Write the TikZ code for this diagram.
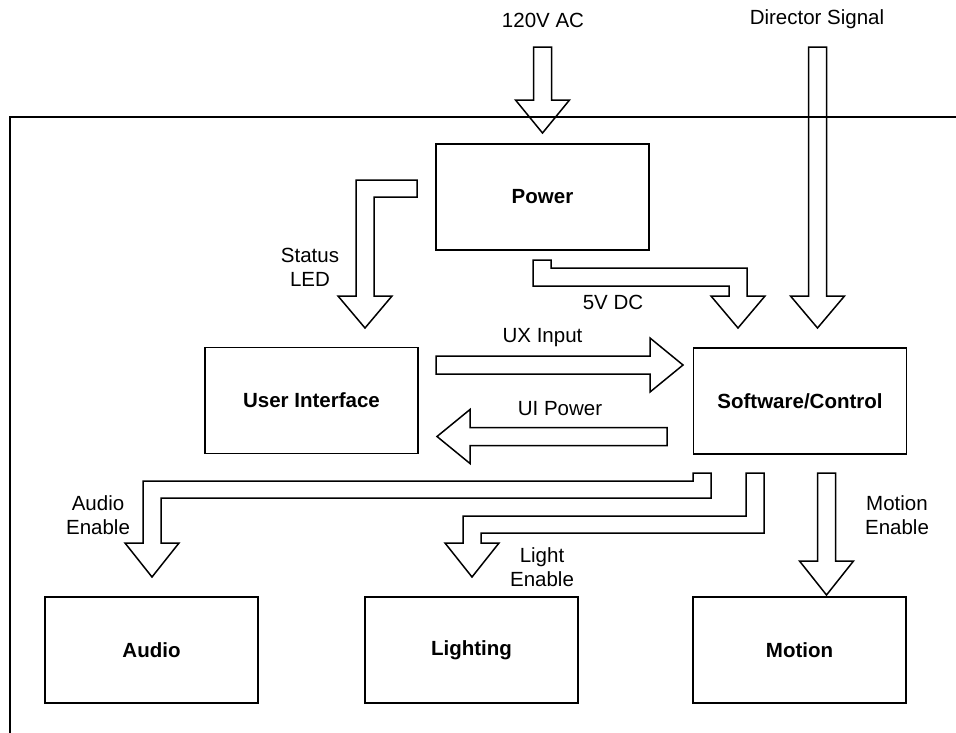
\documentclass[tikz,border=0pt]{standalone}
\usepackage{fontspec}
\setmainfont{Liberation Sans}
\begin{document}
\begin{tikzpicture}[x=1pt,y=-1pt,line width=1.5pt,
  box/.style={draw,minimum width=213pt,minimum height=106pt,inner sep=0pt,font=\bfseries\fontsize{20.5}{24}\selectfont},
  lbl/.style={align=center,inner sep=0pt,font=\fontsize{20.5}{24}\selectfont},
  hollow/.style={draw,line join=miter}]
\useasboundingbox (0,0) rectangle (956,732);
% enclosure frame
\coordinate (fbl) at (10,760);
\coordinate (ftl) at (10,117);
\coordinate (ftr) at (980,117);
\draw (fbl) -- (ftl) -- (ftr);
% boxes
\node[box] (power) at (542.5,197) {Power};
\node[box] (ui) at (311.5,400.5) {User Interface};
\node[box] (sw) at (800,401) {Software/Control};
\node[box] (audio) at (151.5,650) {Audio};
\node[box] (light) at (471.5,650) {Lighting};
\node[box] (motion) at (799.5,650) {Motion};
% hollow arrows
\draw[hollow] (533.5,47) -- (551.5,47) -- (551.5,100) -- (569.5,100) -- (542.5,133) -- (515.5,100) -- (533.5,100) -- cycle;
\draw[hollow] (808.5,47) -- (826.5,47) -- (826.5,296) -- (844.5,296) -- (817.5,328) -- (790.5,296) -- (808.5,296) -- cycle;
\draw[hollow] (417,180) -- (417,197) -- (374,197) -- (374,296) -- (392,296) -- (365,328) -- (338,296) -- (356,296) -- (356,180) -- cycle;
\draw[hollow] (533,260) -- (551,260) -- (551,268) -- (747,268) -- (747,296) -- (765,296) -- (738,328) -- (711,296) -- (729,296) -- (729,286) -- (533,286) -- cycle;
\draw[hollow] (436,356) -- (650,356) -- (650,338) -- (683,365) -- (650,392) -- (650,374) -- (436,374) -- cycle;
\draw[hollow] (667,427.5) -- (470,427.5) -- (470,409.5) -- (437,436.5) -- (470,463.5) -- (470,445.5) -- (667,445.5) -- cycle;
\draw[hollow] (693,473) -- (711,473) -- (711,498) -- (161,498) -- (161,543) -- (179,543) -- (152,577) -- (125,543) -- (143,543) -- (143,481) -- (693,481) -- cycle;
\draw[hollow] (746,473) -- (764,473) -- (764,533) -- (481,533) -- (481,543) -- (499,543) -- (472,577) -- (445,543) -- (463,543) -- (463,516) -- (746,516) -- cycle;
\draw[hollow] (817.5,473) -- (835.5,473) -- (835.5,561) -- (853.5,561) -- (826.5,595) -- (799.5,561) -- (817.5,561) -- cycle;
% labels
\node[lbl] (l120) at (543,20) {120V AC};
\node[lbl] (ldir) at (817,19) {Director Signal};
\node[lbl] (lled) at (310,267.5) {Status\\LED};
\node[lbl] (l5v) at (613,302) {5V DC};
\node[lbl] (lux) at (542.5,338) {UX Input};
\node[lbl] (luip) at (560,409) {UI Power};
\node[lbl] (laud) at (98,515) {Audio\\Enable};
\node[lbl] (llig) at (542,567) {Light\\Enable};
\node[lbl] (lmot) at (897,515) {Motion\\Enable};
\end{tikzpicture}
\end{document}
